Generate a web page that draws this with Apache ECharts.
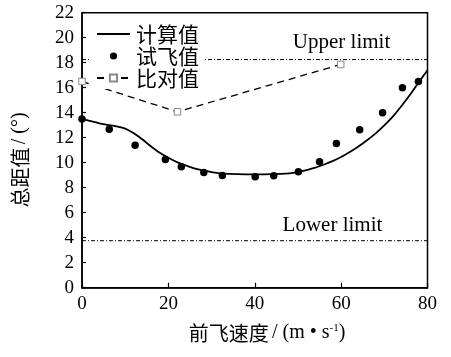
<!DOCTYPE html>
<html><head><meta charset="utf-8">
<script src="https://cdn.jsdelivr.net/npm/echarts@6/dist/echarts.min.js"></script>
<style>html,body{margin:0;padding:0;background:#fff}#c{width:451px;height:357px}</style>
</head><body><div id="c"></div>
<script>
// 计算值 (calculated curve)
const calcX = [0,2,4,6,8,10,12,14,16,18,20,22,24,26,28,30,32,34,36,38,40,42,44,46,48,50,52,54,56,58,60,62,64,66,68,70,72,74,76,78,80];
const calcY = [13.5,13.33,13.15,13.02,12.9,12.72,12.35,11.85,11.3,10.8,10.4,10.05,9.78,9.55,9.38,9.25,9.15,9.1,9.08,9.07,9.07,9.07,9.08,9.1,9.15,9.25,9.4,9.6,9.85,10.12,10.45,10.85,11.3,11.8,12.35,12.98,13.7,14.55,15.45,16.45,17.4];
// 试飞值 (flight test)
const flightX = [0,6.3,12.3,19.3,23,28.2,32.5,40.1,44.4,50.1,55,58.9,64.3,69.6,74.2,77.9];
const flightY = [13.5,12.67,11.4,10.25,9.67,9.22,8.97,8.87,8.95,9.27,10.07,11.53,12.64,14.0,16.0,16.5];
// 比对值 (comparison)
const compX = [0,22.1,59.9];
const compY = [16.5,14.07,17.86];
// limits
const upperLimit = 18.25;
const lowerLimit = 3.76;
const xRange = [0,80];
const yRange = [0,22];

const zip = (a,b)=>a.map((v,i)=>[v,b[i]]);
const serif = 'Liberation Serif';
const cjk = 'Noto Sans CJK SC';

const chart = echarts.init(document.getElementById('c'), null, {renderer:'canvas'});
chart.setOption({
  animation:false,
  backgroundColor:'#fff',
  grid:{left:82,right:23.5,top:12.7,bottom:69.3,show:true,borderColor:'#000',borderWidth:1.5,backgroundColor:'transparent'},
  xAxis:{type:'value',min:xRange[0],max:xRange[1],interval:20,
    axisLine:{lineStyle:{color:'#000',width:1.5}},
    axisTick:{inside:true,length:5,lineStyle:{color:'#000',width:1.2}},
    axisLabel:{color:'#000',fontFamily:serif,fontSize:19,margin:7},
    splitLine:{show:false}},
  yAxis:{type:'value',min:yRange[0],max:yRange[1],interval:2,
    axisLine:{lineStyle:{color:'#000',width:1.5}},
    axisTick:{inside:true,length:4,lineStyle:{color:'#000',width:1.2}},
    axisLabel:{color:'#000',fontFamily:serif,fontSize:19,margin:8},
    splitLine:{show:false}},
  legend:{data:[
      {name:'计算值',icon:'path://M0,0 L33,0 L33,1.8 L0,1.8 Z'},
      {name:'试飞值'},
      {name:'比对值'}],
    orient:'vertical',left:91,top:23,
    itemWidth:33,itemHeight:9,itemGap:0,backgroundColor:'#fff',padding:[0,4,0,5],
    textStyle:{fontFamily:cjk,fontSize:21,color:'#000',padding:[0,0,0,1],lineHeight:22}},
  series:[
    {name:'upper',type:'line',data:[[xRange[0],upperLimit],[xRange[1],upperLimit]],symbol:'none',silent:true,
      lineStyle:{color:'#000',width:1,type:[4,2,1,2]},z:1},
    {name:'lower',type:'line',data:[[xRange[0],lowerLimit],[xRange[1],lowerLimit]],symbol:'none',silent:true,
      lineStyle:{color:'#000',width:1,type:[4,2,1,2]},z:1},
    {name:'比对值',type:'line',data:zip(compX,compY),symbol:'rect',symbolSize:6.5,
      itemStyle:{color:'#fff',borderColor:'#888',borderWidth:1},
      lineStyle:{color:'#000',width:1.3,type:[7,5]}},
    {name:'计算值',type:'line',data:zip(calcX,calcY),symbol:'none',smooth:0.3,
      itemStyle:{color:'#000'},lineStyle:{color:'#000',width:1.8}},
    {name:'试飞值',type:'line',data:zip(flightX,flightY),symbol:'circle',symbolSize:7.5,
      itemStyle:{color:'#000'},lineStyle:{opacity:0,width:0}}
  ]
});

function px(x,y){return chart.convertToPixel({gridIndex:0},[x,y]);}
const up = px(60.1,19.6), lo = px(58,5.0);
chart.setOption({graphic:[
  {type:'text',x:up[0],y:up[1],style:{text:'Upper limit',font:'21px "Liberation Serif"',fill:'#000',align:'center',verticalAlign:'middle'},z:10},
  {type:'text',x:lo[0],y:lo[1],style:{text:'Lower limit',font:'21px "Liberation Serif"',fill:'#000',align:'center',verticalAlign:'middle'},z:10},
  {type:'text',x:267,y:333,style:{text:'{c|前飞速度} {s|/ (m • s}{sup|-1}{s|)}',align:'center',verticalAlign:'middle',
     rich:{c:{fontFamily:cjk,fontSize:20,fill:'#000'},s:{fontFamily:serif,fontSize:20,fill:'#000'},
           sup:{fontFamily:serif,fontSize:11,fill:'#000',verticalAlign:'top',padding:[0,0,9,0]}}},z:10},
  {type:'text',x:20,y:160,rotation:Math.PI/2,style:{text:'{c|总距值} {s|/ (°)}',align:'center',verticalAlign:'middle',
     rich:{c:{fontFamily:cjk,fontSize:20,fill:'#000'},s:{fontFamily:serif,fontSize:20,fill:'#000'}}},z:10}
]});
</script></body></html>
